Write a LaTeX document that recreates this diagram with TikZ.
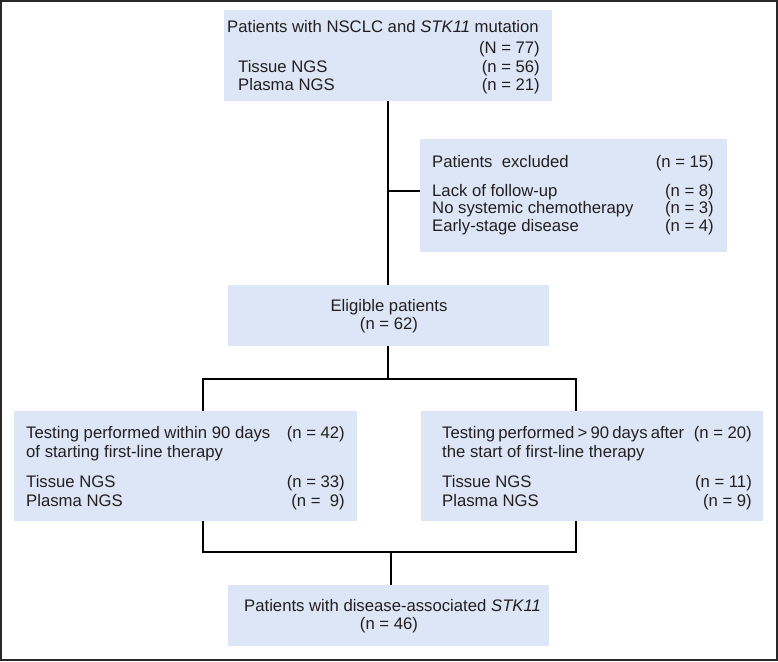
\documentclass[tikz,border=0pt]{standalone}
\usepackage{fontspec}
\setmainfont{Liberation Sans}
\definecolor{boxfill}{RGB}{220,230,246}
\definecolor{ink}{RGB}{35,31,32}
\definecolor{framec}{RGB}{40,40,40}
\begin{document}
\begin{tikzpicture}[x=1pt,y=-1pt,
  box/.style={rectangle, fill=boxfill, draw=none, inner sep=0pt},
  txt/.style={inner sep=0pt, text=ink, font=\fontsize{16.7}{19}\selectfont},
  lt/.style={txt, anchor=base west},
  rt/.style={txt, anchor=base east},
  ct/.style={txt, anchor=base},
  conn/.style={draw=black, line width=2.2pt}]
\useasboundingbox (0,0) rectangle (778,661);
\draw[framec, line width=1.6pt] (1,1) rectangle (777,660);

% boxes
\node[box, minimum width=328pt, minimum height=91pt] (top) at (388,55.5) {};
\node[box, minimum width=307pt, minimum height=113pt] (excl) at (573.5,195.5) {};
\node[box, minimum width=321pt, minimum height=61pt] (elig) at (388,315.5) {};
\node[box, minimum width=343pt, minimum height=110pt] (left) at (185.5,466) {};
\node[box, minimum width=342pt, minimum height=110pt] (right) at (592,466) {};
\node[box, minimum width=321pt, minimum height=61pt] (bot) at (388.5,615.5) {};

% connectors
\coordinate (brA) at (388,191);
\coordinate (lA) at (203,379);
\coordinate (rA) at (576,379);
\coordinate (lB) at (203,552);
\coordinate (rB) at (576,552);
\coordinate (join) at (391,552);
\draw[conn] (top.south) -- (elig.north);
\draw[conn] (brA) -- (brA -| excl.west);
\draw[conn] (elig.south) -- (elig.south |- lA);
\draw[conn] (lA |- left.north) -- (lA) -- (rA) -- (rA |- right.north);
\draw[conn] (lA |- left.south) -- (lB) -- (rB) -- (rA |- right.south);
\draw[conn] (join) -- (join |- bot.north);

% top box text
\node[lt] (t1) at (227,33) {Patients with NSCLC and \textit{STK11} mutation};
\node[rt] (t2) at (540,53) {(N = 77)};
\node[lt] (t3) at (238,72) {Tissue NGS};
\node[rt] (t4) at (540,72) {(n = 56)};
\node[lt] (t5) at (238,90.5) {Plasma NGS};
\node[rt] (t6) at (540,90.5) {(n = 21)};

% excluded text
\node[lt] (e1) at (432,167) {Patients\ \ excluded};
\node[rt] (e2) at (714,167) {(n = 15)};
\node[lt] (e3) at (432,196) {Lack of follow-up};
\node[rt] (e4) at (714,196) {(n = 8)};
\node[lt] (e5) at (432,213.5) {No systemic chemotherapy};
\node[rt] (e6) at (714,213.5) {(n = 3)};
\node[lt] (e7) at (432,231) {Early-stage disease};
\node[rt] (e8) at (714,231) {(n = 4)};

% eligible text
\node[ct] (g1) at (389,311) {Eligible patients};
\node[ct] (g2) at (389,329.5) {(n = 62)};

% left box text
\node[lt] (l1) at (26,438) {Testing performed within 90 days};
\node[rt] (l2) at (345,438) {(n = 42)};
\node[lt] (l3) at (26,457) {of starting first-line therapy};
\node[lt] (l4) at (26,487) {Tissue NGS};
\node[rt] (l5) at (345,487) {(n = 33)};
\node[lt] (l6) at (26,506) {Plasma NGS};
\node[rt] (l7) at (345,506) {(n =\ \ 9)};

% right box text
\node[lt] (r1) at (442,438) {\spaceskip=3.2pt plus 1pt\relax Testing performed > 90 days after};
\node[rt] (r2) at (752,438) {(n = 20)};
\node[lt] (r3) at (442,457) {the start of first-line therapy};
\node[lt] (r4) at (442,487) {Tissue NGS};
\node[rt] (r5) at (752,487) {(n = 11)};
\node[lt] (r6) at (442,506) {Plasma NGS};
\node[rt] (r7) at (752,506) {(n = 9)};

% bottom text
\node[lt] (b1) at (244,611) {Patients with disease-associated \textit{STK11}};
\node[ct] (b2) at (389,629.5) {(n = 46)};
\end{tikzpicture}
\end{document}
